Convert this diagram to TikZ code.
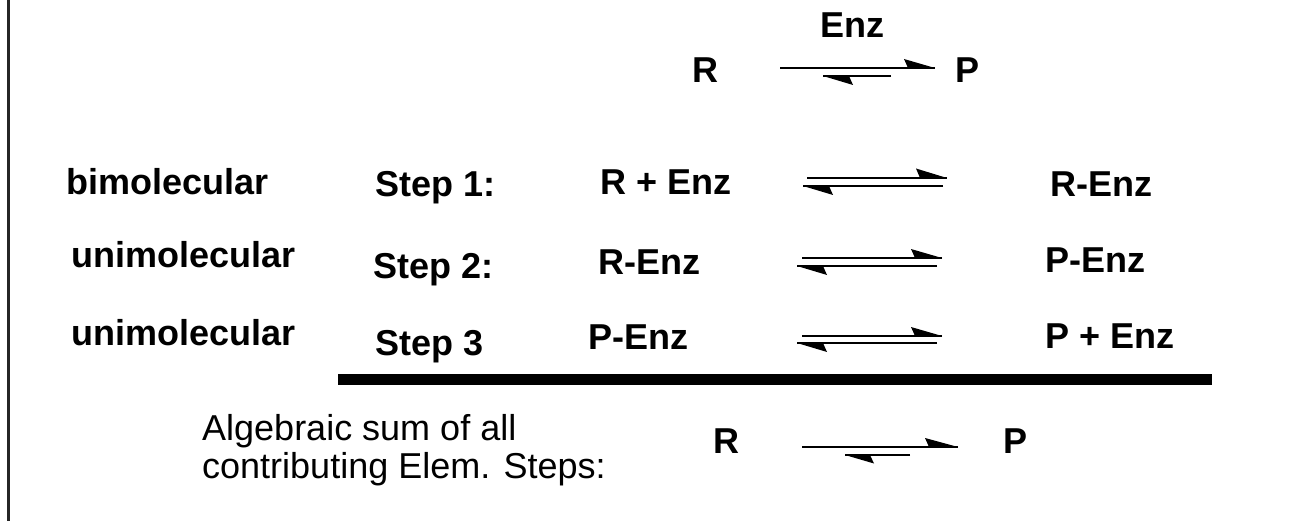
\documentclass[tikz,border=0pt]{standalone}
\usepackage{fontspec}
\setmainfont{Liberation Sans}
\begin{document}
\begin{tikzpicture}[x=1pt,y=-1pt,
  lbl/.style={inner sep=0pt,anchor=base west,font=\fontsize{36}{40}\selectfont\bfseries},
  txt/.style={inner sep=0pt,anchor=base west,font=\fontsize{36}{40}\selectfont},
  rxn/.style={line width=2.4pt},
  rxnthin/.style={line width=1.7pt}]
\useasboundingbox (0,0) rectangle (1289,521);
\fill[white] (0,0) rectangle (1289,521);
% frame edge on the left
\draw[line width=2.5pt,black!85] (8.5,0) -- (8.5,521);

% overall reaction with the enzyme as catalyst
\node[lbl] (enz) at (820,38) {Enz};
\node[lbl] (rtop) at (692,83) {R};
\node[lbl] (ptop) at (955,83) {P};
\coordinate (t1) at (780,68);  \coordinate (t2) at (935,68);
\coordinate (t3) at (891,76);  \coordinate (t4) at (823,76);
\draw[rxnthin] (t1) -- (t2);
\fill (t2) -- ++(-31,-9) -- ++(4,9) -- cycle;
\draw[rxnthin] (t3) -- (t4);
\fill (t4) -- ++(30,9) -- ++(-4,-9) -- cycle;

% elementary steps
\node[lbl] (mol1) at (66,195) {bimolecular};
\node[lbl] (mol2) at (71,267) {unimolecular};
\node[lbl] (mol3) at (71,345) {unimolecular};
\node[lbl] (st1) at (375,197) {Step 1:};
\node[lbl] (st2) at (373,278) {Step 2:};
\node[lbl] (st3) at (375,355) {Step 3};
\node[lbl] (l1) at (600,195) {R + Enz};
\node[lbl] (l2) at (598,274) {R-Enz};
\node[lbl] (l3) at (588,349) {P-Enz};
\node[lbl] (r1) at (1050,197) {R-Enz};
\node[lbl] (r2) at (1045,272) {P-Enz};
\node[lbl] (r3) at (1045,348) {P + Enz};

% step 1 equilibrium arrows
\coordinate (a1s) at (807,178); \coordinate (a1e) at (947,178);
\coordinate (b1s) at (943,186); \coordinate (b1e) at (803,186);
\draw[rxn] (a1s) -- (a1e);
\fill (a1e) -- ++(-31,-9.5) -- ++(4,9.5) -- cycle;
\draw[rxn] (b1s) -- (b1e);
\fill (b1e) -- ++(30,9) -- ++(-4,-9) -- cycle;

% step 2 equilibrium arrows
\coordinate (a2s) at (802,258); \coordinate (a2e) at (942,258);
\coordinate (b2s) at (937,266); \coordinate (b2e) at (797,266);
\draw[rxn] (a2s) -- (a2e);
\fill (a2e) -- ++(-31,-9) -- ++(4,9) -- cycle;
\draw[rxn] (b2s) -- (b2e);
\fill (b2e) -- ++(30,9) -- ++(-4,-9) -- cycle;

% step 3 equilibrium arrows
\coordinate (a3s) at (802,336); \coordinate (a3e) at (942,336);
\coordinate (b3s) at (937,343); \coordinate (b3e) at (797,343);
\draw[rxn] (a3s) -- (a3e);
\fill (a3e) -- ++(-31,-9) -- ++(4,9) -- cycle;
\draw[rxn] (b3s) -- (b3e);
\fill (b3e) -- ++(30,9) -- ++(-4,-9) -- cycle;

% summation bar
\coordinate (bar1) at (338,379.5); \coordinate (bar2) at (1212,379.5);
\draw[line width=11pt] (bar1) -- (bar2);

% net result
\node[txt] (sum1) at (202,440) {Algebraic sum of all};
\node[txt] (sum2) at (202,478) {contributing Elem. Steps:};
\node[lbl] (rbot) at (713,453) {R};
\node[lbl] (pbot) at (1003,453) {P};
\coordinate (c1) at (802,447); \coordinate (c2) at (958,447);
\coordinate (c3) at (910,455); \coordinate (c4) at (845,455);
\draw[rxnthin] (c1) -- (c2);
\fill (c2) -- ++(-33,-9) -- ++(4,9) -- cycle;
\draw[rxnthin] (c3) -- (c4);
\fill (c4) -- ++(29,8.5) -- ++(-4,-8.5) -- cycle;
\end{tikzpicture}
\end{document}
